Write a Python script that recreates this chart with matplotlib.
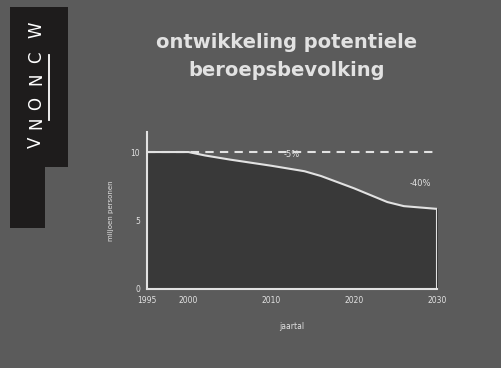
import matplotlib
matplotlib.use("Agg")
import matplotlib.pyplot as plt
from matplotlib.patches import Polygon

# Potential labour force (millions)
years = [1995, 2000, 2002, 2005, 2010, 2014, 2016, 2020, 2024, 2026, 2030]
values = [10.0, 10.0, 9.75, 9.45, 9.0, 8.6, 8.25, 7.35, 6.35, 6.05, 5.85]
baseline = 10.0
x_ticks = [1995, 2000, 2010, 2020, 2030]
x_tick_labels = ["1995", "2000", "2010", "2020", "2030"]
y_ticks = [0, 5, 10]
y_tick_labels = ["0", "5", "10"]
notes = [("-5%", 2012.5, 9.8), ("-40%", 2028, 7.7)]

bg = "#5b5b5b"
fill_c = "#393939"
ink = "#e2e2e2"

fig = plt.figure(figsize=(5.02, 3.68), dpi=100)
fig.patch.set_facecolor(bg)

# Logo block on the left
fig.patches.append(Polygon(
    [(10/502, 1-7/368), (68/502, 1-7/368), (68/502, 1-167/368),
     (45/502, 1-167/368), (45/502, 1-228/368), (10/502, 1-228/368)],
    closed=True, transform=fig.transFigure, facecolor="#1e1c1c",
    edgecolor="none", zorder=0))
logo_letters = ["V", "N", "O", "N", "C", "W"]
logo_y = [142, 123, 103, 79, 57, 30]
for ch, y in zip(logo_letters, logo_y):
    fig.text(36/502, 1-y/368, ch, rotation=90, color="white",
             fontsize=12, ha="center", va="center")
fig.add_artist(plt.Line2D([49/502, 49/502], [1-55/368, 1-120/368],
                          transform=fig.transFigure, color="white", lw=1.3))

fig.text(287/502, 1-42/368, "ontwikkeling potentiele", color=ink,
         fontsize=14, fontweight="bold", ha="center", va="center")
fig.text(287/502, 1-70/368, "beroepsbevolking", color=ink,
         fontsize=14, fontweight="bold", ha="center", va="center")

ax = fig.add_axes([147/502, 79/368, 290/502, 157.5/368])
ax.set_facecolor(bg)
ax.fill_between(years, values, 0, color=fill_c, zorder=1)
ax.plot(years, values, color=ink, lw=1.5, zorder=3)
ax.plot([years[-1], years[-1]], [0, values[-1]], color=ink, lw=1.5, zorder=3)
ax.plot([years[0], years[-1]], [baseline, baseline], color=ink, lw=1.5,
        ls=(0, (4, 3)), zorder=2)

for txt, x, y in notes:
    ax.text(x, y, txt, color=ink, fontsize=6, ha="center", va="center")

ax.set_xlim(years[0], years[-1])
ax.set_ylim(0, 11.5)
ax.set_xticks(x_ticks)
ax.set_xticklabels(x_tick_labels)
ax.set_yticks(y_ticks)
ax.set_yticklabels(y_tick_labels)
ax.tick_params(colors=ink, labelsize=5.5, length=0, pad=5)
for s in ("top", "right"):
    ax.spines[s].set_visible(False)
for s in ("left", "bottom"):
    ax.spines[s].set_color(ink)
    ax.spines[s].set_linewidth(1.5)
ax.set_ylabel("miljoen personen", color=ink, fontsize=5, labelpad=12)
ax.set_xlabel("jaartal", color=ink, fontsize=5.5, labelpad=12)

fig.savefig("out.png", dpi=100, facecolor=bg)
